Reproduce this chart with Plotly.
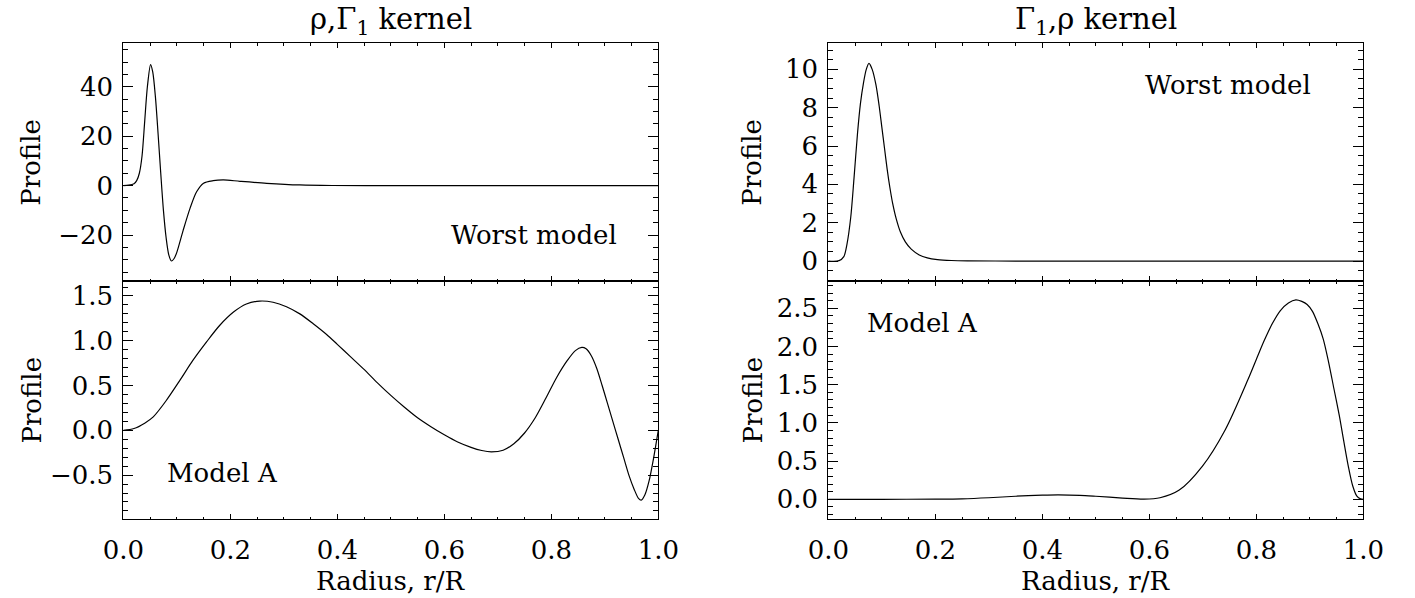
import plotly.graph_objects as go

# ---- data ----
r_rg_worst = [0, 0.01, 0.02, 0.025, 0.03, 0.035, 0.04, 0.045, 0.051, 0.055, 0.06, 0.065, 0.07, 0.075,
              0.08, 0.085, 0.09, 0.095, 0.1, 0.112, 0.125, 0.137, 0.15, 0.168, 0.187, 0.218, 0.268,
              0.33, 0.39, 0.5, 0.7, 1.0]
v_rg_worst = [0, 0.2, 0.8, 2, 5, 12, 26, 40, 49, 46, 36, 21, 5, -10,
              -21, -28, -30.5, -29.5, -27, -18, -9, -2.5, 1.0, 2.0, 2.3, 1.75, 0.95,
              0.27, 0.05, 0, 0, 0]

r_rg_a = [0, 0.02, 0.04, 0.056, 0.08, 0.106, 0.13, 0.156, 0.18, 0.206, 0.23, 0.255, 0.28, 0.305,
          0.33, 0.355, 0.38, 0.4, 0.425, 0.45, 0.475, 0.5, 0.525, 0.55, 0.575, 0.6, 0.625, 0.65,
          0.67, 0.688, 0.71, 0.73, 0.75, 0.77, 0.79, 0.81, 0.83, 0.845, 0.857, 0.865, 0.875,
          0.885, 0.895, 0.905, 0.915, 0.925, 0.935, 0.945, 0.955, 0.963, 0.968, 0.975, 0.983,
          0.99, 1.0]
v_rg_a = [0, 0.02, 0.08, 0.15, 0.33, 0.56, 0.78, 0.99, 1.17, 1.32, 1.41, 1.443, 1.43, 1.38,
          1.30, 1.19, 1.07, 0.96, 0.82, 0.68, 0.53, 0.39, 0.26, 0.14, 0.04, -0.05, -0.13, -0.19,
          -0.225, -0.24, -0.222, -0.15, -0.03, 0.14, 0.36, 0.59, 0.78, 0.89, 0.925, 0.91, 0.83,
          0.69, 0.5, 0.3, 0.1, -0.1, -0.3, -0.5, -0.66, -0.76, -0.78, -0.72, -0.56,
          -0.35, 0.0]

r_gr_worst = [0, 0.02, 0.029, 0.035, 0.042, 0.048, 0.0546, 0.06, 0.0658, 0.071, 0.076, 0.082,
              0.089, 0.095, 0.1, 0.105, 0.11, 0.115, 0.12, 0.127, 0.135, 0.144, 0.155, 0.17, 0.185,
              0.204, 0.23, 0.26, 0.35, 0.5, 1.0]
v_gr_worst = [0, 0.02, 0.23, 0.9, 2.3, 4.3, 6.66, 8.2, 9.3, 10.0, 10.31, 10.0,
              9.2, 8.1, 7.0, 5.9, 4.8, 3.85, 3.05, 2.2, 1.5, 1.0, 0.62, 0.32, 0.17,
              0.08, 0.03, 0.01, 0, 0, 0]

r_gr_a = [0, 0.1, 0.2, 0.25, 0.3, 0.35, 0.4, 0.43, 0.47, 0.5, 0.55, 0.59, 0.62, 0.656, 0.699,
          0.742, 0.784, 0.8, 0.815, 0.83, 0.845, 0.86, 0.874, 0.885, 0.895, 0.905, 0.915, 0.925,
          0.935, 0.945, 0.955, 0.963, 0.972, 0.98, 0.988, 0.995, 1.0]
v_gr_a = [0, 0, 0.002, 0.006, 0.02, 0.04, 0.054, 0.058, 0.052, 0.04, 0.016, 0.002, 0.02, 0.12, 0.43,
          0.91, 1.56, 1.83, 2.08, 2.3, 2.47, 2.57, 2.61, 2.59, 2.55, 2.46, 2.3, 2.1,
          1.8, 1.45, 1.1, 0.78, 0.43, 0.18, 0.04, 0.005, 0.0]

titles = ["ρ,Γ<sub>1</sub> kernel", "Γ<sub>1</sub>,ρ kernel"]
x_title = "Radius, r/R"
y_title = "Profile"
labels = ["Worst model", "Model A", "Worst model", "Model A"]

FONT = "DejaVu Serif"
W, H = 1415, 598

fig = go.Figure()
series = [(r_rg_worst, v_rg_worst, "x", "y"), (r_rg_a, v_rg_a, "x2", "y2"),
          (r_gr_worst, v_gr_worst, "x3", "y3"), (r_gr_a, v_gr_a, "x4", "y4")]
for xs, ys, xa, ya in series:
    fig.add_trace(go.Scatter(x=xs, y=ys, xaxis=xa, yaxis=ya, mode="lines",
                             line=dict(color="black", width=1.2, shape="spline", smoothing=0.8),
                             showlegend=False, hoverinfo="skip"))

xl = [123.3 / W, 658.3 / W]
xr = [828.3 / W, 1363.3 / W]
yt = [1 - 281 / H, 1 - 43.3 / H]
yb = [1 - 519 / H, 1 - 281 / H]

tickfont = dict(family=FONT, size=26, color="black")

def xax(domain, anchor, show):
    return dict(domain=domain, anchor=anchor, range=[0, 1], dtick=0.2, tick0=0,
                tickformat=".1f", showticklabels=show, ticks="inside", ticklen=5,
                tickcolor="black", tickwidth=1, showline=True, linecolor="black",
                linewidth=1, mirror="ticks", showgrid=False, zeroline=False,
                automargin=False, tickfont=tickfont, ticklabelstandoff=8,
                minor=dict(dtick=0.05, tick0=0, ticks="inside", ticklen=2.5,
                           tickcolor="black", tickwidth=1, showgrid=False))

def yax(domain, anchor, rng, dtick, mdtick, fmt):
    return dict(domain=domain, anchor=anchor, range=rng, dtick=dtick, tick0=0,
                tickformat=fmt, ticks="inside", ticklen=10, tickcolor="black",
                tickwidth=1, showline=True, linecolor="black", linewidth=1,
                mirror="ticks", showgrid=False, zeroline=False, tickfont=tickfont,
                automargin=False, ticklabelstandoff=4,
                minor=dict(dtick=mdtick, tick0=0, ticks="inside", ticklen=5,
                           tickcolor="black", tickwidth=1, showgrid=False))

fig.update_layout(
    template="none",
    width=W, height=H, margin=dict(l=0, r=0, t=0, b=0, autoexpand=False),
    paper_bgcolor="white", plot_bgcolor="white",
    xaxis=xax(xl, "y", False),
    xaxis2=xax(xl, "y2", True),
    xaxis3=xax(xr, "y3", False),
    xaxis4=xax(xr, "y4", True),
    yaxis=yax(yt, "x", [-38.6, 57.6], 20, 5, "d"),
    yaxis2=yax(yb, "x2", [-0.99, 1.667], 0.5, 0.1, ".1f"),
    yaxis3=yax(yt, "x3", [-1.04, 11.36], 2, 0.5, "d"),
    yaxis4=yax(yb, "x4", [-0.258, 2.857], 0.5, 0.1, ".1f"),
)

ann = []
fnt = dict(family=FONT, size=26, color="black")
for t, xd in zip(titles, [xl, xr]):
    ann.append(dict(text=t, x=(xd[0] + xd[1]) / 2, y=1 - 21 / H, xref="paper", yref="paper",
                    showarrow=False, font=dict(family=FONT, size=29, color="black"),
                    xanchor="center", yanchor="middle"))
for xd in [xl, xr]:
    ann.append(dict(text=x_title, x=(xd[0] + xd[1]) / 2, y=1 - 581 / H, xref="paper", yref="paper",
                    showarrow=False, font=fnt, xanchor="center", yanchor="middle"))
for xpix in [31.6, 752.5]:
    for yd in [yt, yb]:
        ann.append(dict(text=y_title, x=xpix / W, y=(yd[0] + yd[1]) / 2, xref="paper", yref="paper",
                        showarrow=False, font=fnt, textangle=-90, xanchor="center", yanchor="middle"))
lab_pos = [(534, 235), (223, 473), (1228, 85), (923, 323)]
for t, (px, py) in zip(labels, lab_pos):
    ann.append(dict(text=t, x=px / W, y=1 - py / H, xref="paper", yref="paper",
                    showarrow=False, font=fnt, xanchor="center", yanchor="middle"))
fig.update_layout(annotations=ann)

fig.write_html("out.html")
